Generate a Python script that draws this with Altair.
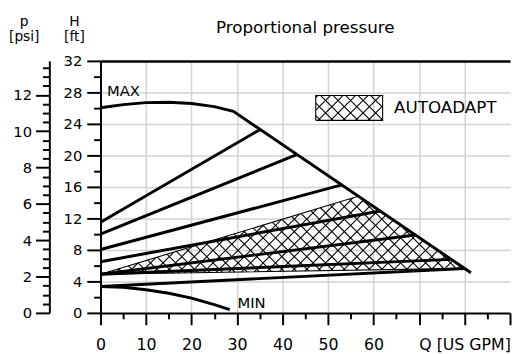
import altair as alt
import numpy as np
import pandas as pd

# ---------------- data ----------------
# MAX curve (Q in US GPM, H in ft)
max_q = [0, 5, 10, 15, 20, 25, 29.2, 81.4]
max_h = [26.05, 26.45, 26.7, 26.75, 26.58, 26.2, 25.6, 5.1]
# MIN curve
min_q = [0, 5, 10, 15, 20, 25, 28.4]
min_h = [3.35, 3.25, 2.95, 2.5, 1.88, 1.05, 0.42]
# proportional pressure lines: start at Q=0, end on the MAX curve
pp_start_h = [11.5, 10.0, 8.05, 6.5, 4.9, 4.9, 3.35]
pp_end_q = [35.1, 43.1, 53.0, 61.5, 69.2, 77.1, 80.0]
pp_end_h = [23.3, 20.1, 16.25, 12.95, 9.9, 6.8, 5.65]
# AUTOADAPT hatched area (triangle)
aa_q = [0, 56.6, 80.0]
aa_h = [4.9, 14.8, 5.65]
# legend swatch
legend_q = [47.3, 62.0]
legend_h = [24.45, 27.6]
# annotation labels
label_text = ["MAX", "MIN"]
label_q = [1.4, 30.1]
label_h = [28.2, 1.3]
legend_text = ["AUTOADAPT"]
legend_text_q = [64.5]
legend_text_h = [26.0]

x_ticks = list(range(0, 91, 5))
x_grid = list(range(10, 81, 10))
h_ticks = list(range(0, 33, 2))
h_grid = list(range(4, 29, 4))
psi_ticks = [i * 0.5 for i in range(28)]

# ---------------- layout ----------------
W, HPX = 416, 256
Q_MAX, H_MAX = 90, 32
FT_PER_PSI = 2.307
FONT = "DejaVu Sans"
HATCH_SPACING = 12.7  # px between parallel hatch lines (horizontal)

PX_Q = W / Q_MAX
PX_H = HPX / H_MAX


def cross(a, b):
    return a[0] * b[1] - a[1] * b[0]


def hatch_segments(poly_q, poly_h):
    pts = [(q * PX_Q, h * PX_H) for q, h in zip(poly_q, poly_h)]
    n = len(pts)
    segs = []
    for d in [(1.0, 1.0), (1.0, -1.0)]:
        for k in range(-200, 200):
            p0 = (k * HATCH_SPACING, 0.0)
            ts = []
            for i in range(n):
                a = pts[i]
                b = pts[(i + 1) % n]
                e = (b[0] - a[0], b[1] - a[1])
                den = cross(d, e)
                if abs(den) < 1e-12:
                    continue
                ap = (a[0] - p0[0], a[1] - p0[1])
                t = cross(ap, e) / den
                s = cross(ap, d) / den
                if -1e-9 <= s <= 1 + 1e-9:
                    ts.append(t)
            if len(ts) >= 2:
                t1, t2 = min(ts), max(ts)
                if t2 - t1 > 1e-6:
                    segs.append({
                        "q1": (p0[0] + t1 * d[0]) / PX_Q,
                        "h1": (p0[1] + t1 * d[1]) / PX_H,
                        "q2": (p0[0] + t2 * d[0]) / PX_Q,
                        "h2": (p0[1] + t2 * d[1]) / PX_H,
                    })
    return segs


rows = []
for i, (q, h) in enumerate(zip(max_q, max_h)):
    rows.append({"curve": "max", "idx": i, "q": q, "h": h})
for i, (q, h) in enumerate(zip(min_q, min_h)):
    rows.append({"curve": "min", "idx": i, "q": q, "h": h})
for j, (h0, q1, h1) in enumerate(zip(pp_start_h, pp_end_q, pp_end_h)):
    rows.append({"curve": f"pp{j}", "idx": 0, "q": 0, "h": h0})
    rows.append({"curve": f"pp{j}", "idx": 1, "q": q1, "h": h1})
curves_df = pd.DataFrame(rows)

orows = []
for i, (q, h) in enumerate(list(zip(aa_q, aa_h)) + [(aa_q[0], aa_h[0])]):
    orows.append({"shape": "aa", "idx": i, "q": q, "h": h})
lg_q = [legend_q[0], legend_q[1], legend_q[1], legend_q[0], legend_q[0]]
lg_h = [legend_h[0], legend_h[0], legend_h[1], legend_h[1], legend_h[0]]
for i, (q, h) in enumerate(zip(lg_q, lg_h)):
    orows.append({"shape": "legend", "idx": i, "q": q, "h": h})
outline_df = pd.DataFrame(orows)

hatch_df = pd.DataFrame(
    hatch_segments(aa_q, aa_h) + hatch_segments(lg_q[:4], lg_h[:4])
)

labels_df = pd.DataFrame({"text": label_text, "q": label_q, "h": label_h})
legend_text_df = pd.DataFrame({"text": legend_text, "q": legend_text_q, "h": legend_text_h})
psi_df = pd.DataFrame({"q": [0, 0], "psi": [0, H_MAX / FT_PER_PSI]})
frame_df = pd.DataFrame({"q": [0, Q_MAX], "h": [0, H_MAX]})

# ---------------- scales & axes ----------------
xscale = alt.Scale(domain=[0, Q_MAX], nice=False, zero=False)
yscale = alt.Scale(domain=[0, H_MAX], nice=False)
psiscale = alt.Scale(domain=[0, H_MAX / FT_PER_PSI], nice=False)

GRID = "#d2d2d2"
common = dict(
    domainColor="black", domainWidth=2, tickColor="black", tickWidth=2,
    labelFont=FONT, labelColor="black", labelOverlap=False,
)

x_axis = alt.Axis(
    orient="bottom", values=x_ticks, title=None, grid=False,
    tickSize={"condition": {"test": "datum.value % 10 === 0", "value": 12}, "value": 6},
    labelExpr="datum.value === 80 ? 'Q [US GPM]' : ((datum.value <= 60 && datum.value % 10 === 0) ? datum.label : '')",
    labelFlush=False, labelPadding=12, labelFontSize=16, **common,
)
x_grid_axis = alt.Axis(
    orient="top", values=x_grid, title=None, grid=True, gridColor=GRID, gridWidth=1.5,
    domain=True, domainColor="black", domainWidth=2.5, ticks=False, labels=False,
)

y_axis = alt.Axis(
    orient="left", values=h_ticks, title=["H", "[ft]"], titleAngle=0, titleAlign="center",
    titleBaseline="alphabetic", titleX=-27, titleY=-36, titleFont=FONT,
    titleFontSize=14, titleFontWeight="normal", titleLineHeight=15, titleColor="black",
    grid=False,
    tickSize={"condition": {"test": "datum.value % 4 === 0", "value": 14}, "value": 7},
    labelExpr="datum.value % 4 === 0 ? datum.label : ''",
    labelPadding=5, labelFontSize=15, **common,
)
y_grid_axis = alt.Axis(
    orient="right", values=h_grid, title=None, grid=True, gridColor=GRID, gridWidth=1.5,
    domain=False, ticks=False, labels=False,
)

psi_axis = alt.Axis(
    orient="left", offset=52, values=psi_ticks, title=["p", "[psi]"], titleAngle=0,
    titleAlign="center", titleBaseline="alphabetic", titleX=-26, titleY=-36,
    titleFont=FONT, titleFontSize=14, titleFontWeight="normal", titleLineHeight=15,
    titleColor="black", grid=False,
    tickSize={"condition": {"test": "datum.value % 2 === 0", "value": 14}, "value": 7},
    labelExpr="datum.value % 2 === 0 ? format(datum.value, 'd') : ''",
    labelPadding=4, labelFontSize=15, **common,
)

# ---------------- layers ----------------
grid_layer = alt.Chart(frame_df).mark_point(opacity=0).encode(
    x=alt.X("q:Q", scale=xscale, axis=x_grid_axis),
    y=alt.Y("h:Q", scale=yscale, axis=y_grid_axis),
)

hatch = alt.Chart(hatch_df).mark_rule(color="black", strokeWidth=1.1).encode(
    x=alt.X("q1:Q", scale=xscale, axis=None),
    y=alt.Y("h1:Q", scale=yscale, axis=None),
    x2="q2:Q",
    y2="h2:Q",
)

outline = alt.Chart(outline_df).mark_line(color="black", strokeWidth=1.1).encode(
    x=alt.X("q:Q", scale=xscale, axis=None),
    y=alt.Y("h:Q", scale=yscale, axis=None),
    detail="shape:N",
    order="idx:Q",
)

curves = alt.Chart(curves_df).mark_line(color="black", strokeWidth=3).encode(
    x=alt.X("q:Q", scale=xscale, axis=x_axis),
    y=alt.Y("h:Q", scale=yscale, axis=y_axis),
    detail="curve:N",
    order="idx:Q",
)

labels = alt.Chart(labels_df).mark_text(
    align="left", baseline="middle", font=FONT, fontSize=15, color="black"
).encode(
    x=alt.X("q:Q", scale=xscale, axis=None),
    y=alt.Y("h:Q", scale=yscale, axis=None),
    text="text:N",
)

legend_label = alt.Chart(legend_text_df).mark_text(
    align="left", baseline="middle", font=FONT, fontSize=17, color="black"
).encode(
    x=alt.X("q:Q", scale=xscale, axis=None),
    y=alt.Y("h:Q", scale=yscale, axis=None),
    text="text:N",
)

psi_layer = alt.Chart(psi_df).mark_point(opacity=0).encode(
    x=alt.X("q:Q", scale=xscale, axis=None),
    y=alt.Y("psi:Q", scale=psiscale, axis=psi_axis),
)

chart = (
    alt.layer(grid_layer, hatch, outline, curves, labels, legend_label, psi_layer)
    .resolve_scale(y="independent")
    .resolve_axis(x="independent", y="independent")
    .properties(
        width=W,
        height=HPX,
        padding={"left": 94, "top": 51, "right": 2, "bottom": 39},
        autosize=alt.AutoSizeParams(type="none"),
        title=alt.TitleParams(
            "Proportional pressure", font=FONT, fontSize=17, fontWeight="normal",
            color="black", anchor="middle", frame="group", offset=-36,
            baseline="alphabetic",
        ),
    )
    .configure_view(stroke=None)
)

chart.save("out.html", embed_options={"renderer": "svg", "actions": False})
